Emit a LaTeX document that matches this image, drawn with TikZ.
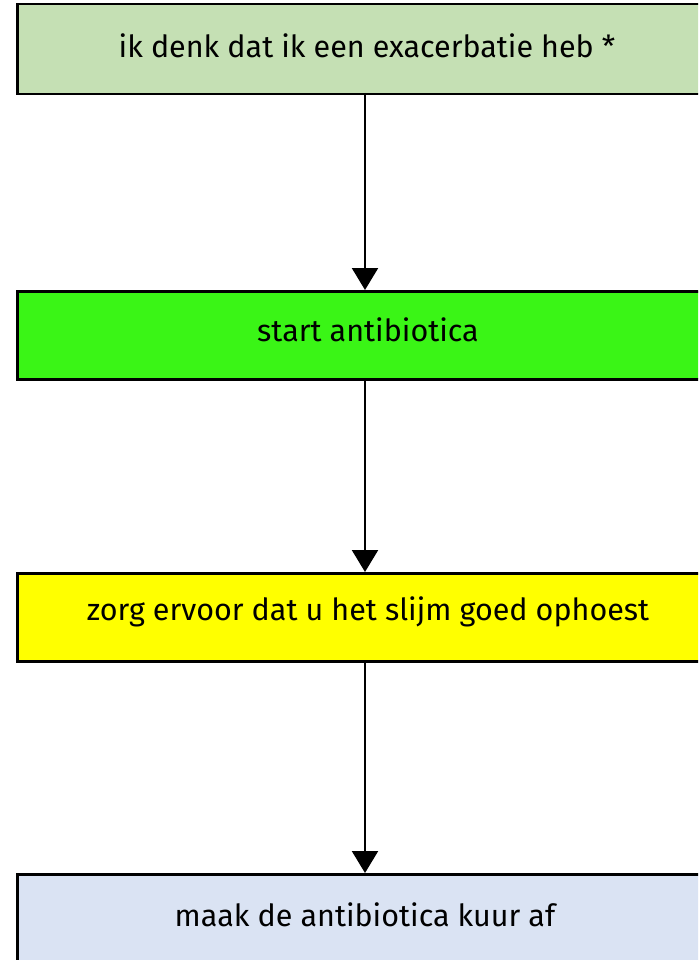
\documentclass[tikz,border=0pt]{standalone}
\usepackage{fontspec}
\setmainfont{Fira Sans}
\usetikzlibrary{arrows.meta}
\definecolor{cA}{HTML}{C5E0B4}
\definecolor{cB}{HTML}{3AF516}
\definecolor{cC}{HTML}{FFFF00}
\definecolor{cD}{HTML}{DAE3F3}
\begin{document}
\begin{tikzpicture}[x=1pt,y=-1pt,
  boxst/.style={draw=black,line width=2.5pt,minimum width=698pt,minimum height=88pt,inner sep=0pt,anchor=north west},
  lbl/.style={font=\fontsize{30.5}{36}\selectfont,inner sep=0pt},
  arr/.style={line width=2.2pt,-{Triangle[length=22pt,width=26pt]}}]
\useasboundingbox (0,0) rectangle (698,960);
\begin{scope}
\clip (0,0) rectangle (698,960);
\node[boxst,fill=cA,minimum height=90pt] (b1) at (16,3) {};
\node[boxst,fill=cB] (b2) at (16,290) {};
\node[boxst,fill=cC] (b3) at (16,572) {};
\node[boxst,fill=cD,minimum height=100pt] (b4) at (16,873) {};
\end{scope}
\node[lbl] (t1) at (367,46) {ik denk dat ik een exacerbatie heb *};
\node[lbl] (t2) at (368,330) {start antibiotica};
\node[lbl] (t3) at (368,612) {zorg ervoor dat u het slijm goed ophoest};
\node[lbl] (t4) at (365,915) {maak de antibiotica kuur af};
\coordinate (a1s) at (365,93);
\coordinate (a1e) at (365,290);
\coordinate (a2s) at (365,378);
\coordinate (a2e) at (365,572);
\coordinate (a3s) at (365,660);
\coordinate (a3e) at (365,873);
\draw[arr] (a1s) -- (a1e);
\draw[arr] (a2s) -- (a2e);
\draw[arr] (a3s) -- (a3e);
\end{tikzpicture}
\end{document}
